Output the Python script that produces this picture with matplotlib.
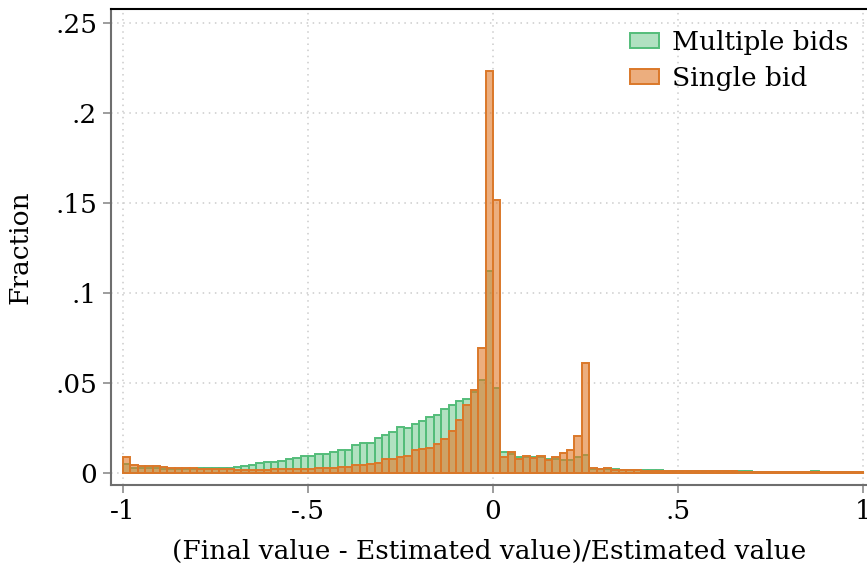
import numpy as np
import matplotlib
matplotlib.use("Agg")
import matplotlib.pyplot as plt
from matplotlib.patches import Patch

# Histogram bins: width 0.02 from -1 to 1
bin_start = -1.0
bin_width = 0.02

# Fraction of auctions per bin, auctions with multiple bids
multiple_bids = [
    0.0050, 0.0030, 0.0030, 0.0030, 0.0030, 0.0025, 0.0025, 0.0025, 0.0025, 0.0025,
    0.0026, 0.0026, 0.0030, 0.0030, 0.0030, 0.0035, 0.0037, 0.0043, 0.0054, 0.0059,
    0.0059, 0.0065, 0.0076, 0.0081, 0.0093, 0.0093, 0.0104, 0.0104, 0.0115, 0.0130,
    0.0130, 0.0154, 0.0165, 0.0165, 0.0194, 0.0211, 0.0226, 0.0254, 0.0248, 0.0270,
    0.0287, 0.0310, 0.0320, 0.0354, 0.0376, 0.0400, 0.0410, 0.0450, 0.0517, 0.1122,
    0.0470, 0.0115, 0.0105, 0.0091, 0.0090, 0.0091, 0.0087, 0.0080, 0.0080, 0.0074,
    0.0072, 0.0087, 0.0100, 0.0020, 0.0020, 0.0024, 0.0024, 0.0018, 0.0018, 0.0016,
    0.0018, 0.0015, 0.0014, 0.0013, 0.0013, 0.0012, 0.0011, 0.0011, 0.0010, 0.0010,
    0.0010, 0.0009, 0.0009, 0.0009, 0.0009, 0.0008, 0.0008, 0.0008, 0.0008, 0.0008,
    0.0008, 0.0008, 0.0008, 0.0013, 0.0008, 0.0008, 0.0007, 0.0007, 0.0007, 0.0007,
]

# Fraction of auctions per bin, auctions with a single bid
single_bid = [
    0.0087, 0.0043, 0.0037, 0.0037, 0.0037, 0.0032, 0.0030, 0.0030, 0.0030, 0.0026,
    0.0020, 0.0020, 0.0020, 0.0020, 0.0020, 0.0018, 0.0015, 0.0015, 0.0015, 0.0015,
    0.0020, 0.0020, 0.0020, 0.0020, 0.0020, 0.0020, 0.0026, 0.0026, 0.0026, 0.0035,
    0.0035, 0.0043, 0.0043, 0.0048, 0.0056, 0.0076, 0.0076, 0.0089, 0.0094, 0.0128,
    0.0131, 0.0137, 0.0161, 0.0189, 0.0233, 0.0293, 0.0376, 0.0460, 0.0693, 0.2233,
    0.1518, 0.0091, 0.0119, 0.0076, 0.0096, 0.0081, 0.0096, 0.0074, 0.0091, 0.0109,
    0.0126, 0.0204, 0.0610, 0.0026, 0.0022, 0.0026, 0.0015, 0.0015, 0.0015, 0.0014,
    0.0013, 0.0013, 0.0012, 0.0012, 0.0011, 0.0011, 0.0010, 0.0010, 0.0010, 0.0009,
    0.0009, 0.0009, 0.0009, 0.0008, 0.0008, 0.0008, 0.0008, 0.0008, 0.0008, 0.0008,
    0.0008, 0.0008, 0.0008, 0.0008, 0.0008, 0.0008, 0.0007, 0.0007, 0.0007, 0.0007,
]

series_labels = ["Multiple bids", "Single bid"]
x_ticks = [-1, -0.5, 0, 0.5, 1]
x_tick_labels = ["-1", "-.5", "0", ".5", "1"]
y_ticks = [0, 0.05, 0.1, 0.15, 0.2, 0.25]
y_tick_labels = ["0", ".05", ".1", ".15", ".2", ".25"]

plt.rcParams["font.family"] = ["DejaVu Serif"]
FS = 19

green_fill = (0.24, 0.71, 0.40, 0.40)
green_edge = (0.33, 0.74, 0.48)
orange_fill = (0.88, 0.47, 0.16, 0.60)
orange_edge = (0.86, 0.47, 0.16)

fig = plt.figure(figsize=(8.67, 5.68), dpi=100)
ax = fig.add_axes([0.128, 0.1461, 0.872, 0.8381])

edges = bin_start + bin_width * np.arange(len(multiple_bids))

ax.bar(edges, multiple_bids, width=bin_width, align="edge",
       facecolor=green_fill, edgecolor=green_edge, linewidth=1.4, zorder=3)
ax.bar(edges, single_bid, width=bin_width, align="edge",
       facecolor=orange_fill, edgecolor=orange_edge, linewidth=1.4, zorder=4)

ax.set_xlim(-1.0324, 1.0108)
ax.set_ylim(-0.00667, 0.2578)

ax.set_xticks(x_ticks)
ax.set_xticklabels(x_tick_labels, fontsize=FS)
ax.set_yticks(y_ticks)
ax.set_yticklabels(y_tick_labels, fontsize=FS)
ax.tick_params(axis="both", direction="out", length=6, width=1.2,
               color="#8c8c8c", pad=4)

ax.grid(True, linestyle=(0, (1, 3)), color="#cccccc", linewidth=1.1, zorder=0)
ax.set_axisbelow(True)

for side in ["left", "bottom"]:
    ax.spines[side].set_color("#6e6e6e")
    ax.spines[side].set_linewidth(1.5)
ax.spines["top"].set_color("black")
ax.spines["top"].set_linewidth(1.5)
ax.spines["right"].set_visible(False)

ax.set_xlabel("(Final value - Estimated value)/Estimated value", fontsize=FS, labelpad=11)
ax.set_ylabel("Fraction", fontsize=FS, labelpad=16)

handles = [
    Patch(facecolor=green_fill, edgecolor=green_edge, linewidth=1.4),
    Patch(facecolor=orange_fill, edgecolor=orange_edge, linewidth=1.4),
]
fig.legend(handles, series_labels, loc="upper left",
           bbox_to_anchor=(630 / 867, 1 - 30 / 568), frameon=False,
           fontsize=FS, borderpad=0, borderaxespad=0, handlelength=1.1,
           handleheight=0.5, handletextpad=0.5, labelspacing=0.42)

fig.savefig("out.png", dpi=100)
